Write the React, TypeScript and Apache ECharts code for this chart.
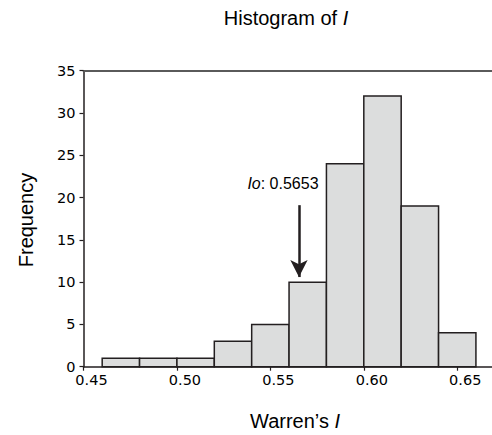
import React, { useEffect, useRef } from "react";
import * as echarts from "echarts";

const binStarts = [0.46, 0.48, 0.5, 0.52, 0.54, 0.56, 0.58, 0.6, 0.62, 0.64];
const binWidth = 0.02;
const counts = [1, 1, 1, 3, 5, 10, 24, 32, 19, 4];
const xTicks = [0.45, 0.5, 0.55, 0.6, 0.65];
const observedValue = 0.5653;
const arrowTop = 19.1;
const arrowTip = 10.6;
const labelY = 21.7;

const FONT = "'Liberation Sans', Arial, sans-serif";
const TICKFONT = "'DejaVu Sans', sans-serif";
const DARK = "#231f20";

export default function App() {
  const ref = useRef<HTMLDivElement>(null);
  useEffect(() => {
    if (!ref.current) return;
    const chart = echarts.init(ref.current, undefined, { renderer: "svg" });
    const data = binStarts.map((s, i) => [s, s + binWidth, counts[i]]);
    chart.setOption({
      animation: false,
      textStyle: { fontFamily: FONT },
      grid: { left: 83.5, right: 0, top: 70.7, bottom: 68.3, containLabel: false },
      xAxis: [
        {
          type: "value",
          min: 0.45,
          max: 0.6686,
          interval: 0.05,
          splitLine: { show: false },
          axisLine: { show: true, lineStyle: { color: DARK, width: 1.5 } },
          axisTick: { show: true, length: 4, customValues: xTicks, lineStyle: { color: DARK, width: 1.2 } },
          axisLabel: {
            customValues: xTicks,
            formatter: (v: number) => v.toFixed(2),
            fontSize: 14.5,
            color: "#000",
            margin: 6,
            padding: [0, 0, 0, 16],
            fontFamily: TICKFONT,
          },
        },
        {
          type: "value",
          position: "top",
          min: 0.45,
          max: 0.6686,
          splitLine: { show: false },
          axisLine: { show: true, onZero: false, lineStyle: { color: "#5a5a5a", width: 2 } },
          axisTick: { show: false },
          axisLabel: { show: false },
        },
      ],
      yAxis: {
        type: "value",
        min: 0,
        max: 35,
        interval: 5,
        splitLine: { show: false },
        axisLine: { show: true, lineStyle: { color: DARK, width: 1.5 } },
        axisTick: { show: true, length: 4, lineStyle: { color: DARK, width: 1.2 } },
        axisLabel: { fontSize: 14.5, color: "#000", margin: 8, fontFamily: TICKFONT },
      },
      graphic: [
        {
          type: "text",
          x: 286,
          y: 18,
          style: {
            text: "Histogram of {i|I}",
            fontSize: 20,
            fontFamily: FONT,
            fill: "#000",
            align: "center",
            verticalAlign: "middle",
            rich: { i: { fontSize: 20, fontFamily: FONT, fontStyle: "italic" } },
          },
        },
        {
          type: "text",
          x: 26,
          y: 220,
          rotation: Math.PI / 2,
          style: {
            text: "Frequency",
            fontSize: 20,
            fontFamily: FONT,
            fill: "#000",
            align: "center",
            verticalAlign: "middle",
          },
        },
        {
          type: "text",
          x: 295,
          y: 421,
          style: {
            text: "Warren’s {i|I}",
            fontSize: 20,
            fontFamily: FONT,
            fill: "#000",
            align: "center",
            verticalAlign: "middle",
            rich: { i: { fontSize: 20, fontFamily: FONT, fontStyle: "italic" } },
          },
        },
      ],
      series: [
        {
          type: "custom",
          xAxisIndex: 0,
          yAxisIndex: 0,
          data,
          encode: { x: [0, 1], y: 2 },
          renderItem: (params: any, api: any) => {
            const p0 = api.coord([api.value(0), api.value(2)]);
            const p1 = api.coord([api.value(1), 0]);
            return {
              type: "rect",
              shape: { x: p0[0], y: p0[1], width: p1[0] - p0[0], height: p1[1] - p0[1] },
              style: { fill: "#dcdddd", stroke: DARK, lineWidth: 1.5 },
            };
          },
          markLine: {
            silent: true,
            symbol: ["none", "arrow"],
            symbolSize: [13, 17],
            label: { show: false },
            lineStyle: { color: DARK, width: 2.5, type: "solid" },
            data: [[{ coord: [observedValue, arrowTop] }, { coord: [observedValue, arrowTip] }]],
          },
          markPoint: {
            silent: true,
            symbol: "circle",
            symbolSize: 0,
            data: [{ coord: [observedValue, labelY] }],
            label: {
              show: true,
              position: "inside",
              offset: [-16, 0],
              formatter: "{i|Io}: " + observedValue.toFixed(4),
              fontSize: 16,
              fontFamily: FONT,
              color: "#000",
              rich: { i: { fontSize: 16, fontFamily: FONT, fontStyle: "italic", color: "#000" } },
            },
          },
        },
      ],
    });
    return () => chart.dispose();
  }, []);
  return <div ref={ref} style={{ width: 492, height: 435, position: "absolute", left: 0, top: 0 }} />;
}
